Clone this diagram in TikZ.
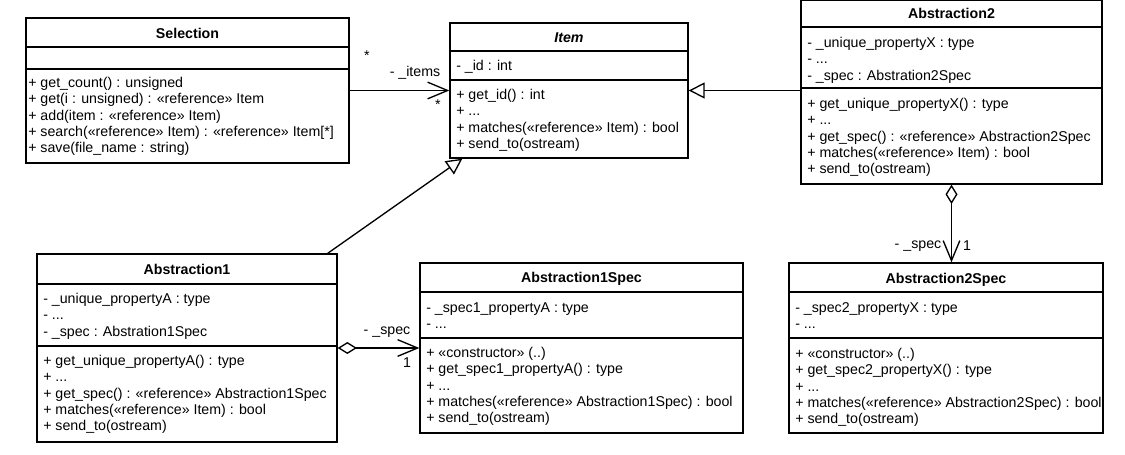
\documentclass[tikz,border=0pt]{standalone}
\usepackage{fontspec}
\setmainfont{Liberation Sans}
\usetikzlibrary{arrows.meta,fit,calc}
\tikzset{
  box/.style={draw, line width=1pt, inner sep=0pt},
  sepline/.style={line width=1pt},
  txt/.style={anchor=north west, inner sep=0pt, align=left, font=\fontsize{10.65}{12.2}\selectfont},
  ttl/.style={anchor=base, inner sep=0pt, font=\fontsize{10.65}{12.2}\selectfont\bfseries},
  lbl/.style={inner sep=0pt, font=\fontsize{10.65}{12.2}\selectfont},
  conn/.style={line width=1pt},
  assoc/.style={conn, -{Straight Barb[length=15pt,width=12.5pt,line width=1pt]}},
  inh/.style={conn, -{Triangle[open,length=12pt,width=12pt,line width=1pt]}},
  aggr/.style={conn, {Diamond[open,length=14.5pt,width=9pt,line width=1pt]}-{Straight Barb[length=15pt,width=12.5pt,line width=1pt]}},
}
\begin{document}
\begin{tikzpicture}[x=0.75pt,y=-0.75pt]
\useasboundingbox (0,0) rectangle (1125,454);
\fill[white] (0,0) rectangle (1125,454);

% Selection
\node[box, fit={(26,18) (349,163)}] (sel) {};
\draw[sepline] (26,47) -- (349,47);
\draw[sepline] (26,69) -- (349,69);
\node[ttl] (selt) at (187.5,38) {Selection};
\node[txt] (selo) at (28,76) {\strut+ get\_count() : unsigned\\
+ get(i : unsigned) : «reference» Item\\
+ add(item : «reference» Item)\\
+ search(«reference» Item) : «reference» Item[*]\\
+ save(file\_name : string)};

% Item
\node[box, fit={(450,23) (688,158)}] (item) {};
\draw[sepline] (450,51) -- (688,51);
\draw[sepline] (450,80) -- (688,80);
\node[ttl, font=\fontsize{10.65}{12.2}\selectfont\bfseries\itshape] (itemt) at (569,42) {Item};
\node[txt] (itema) at (456,59) {\strut- \_id : int};
\node[txt] (itemo) at (456,88) {\strut+ get\_id() : int\\
+ ...\\
+ matches(«reference» Item) : bool\\
+ send\_to(ostream)};

% Abstraction2
\node[box, fit={(801,0.7) (1102,184)}] (abs2) {};
\draw[sepline] (801,27) -- (1102,27);
\draw[sepline] (801,88) -- (1102,88);
\node[ttl] (abs2t) at (951.5,18.5) {Abstraction2};
\node[txt] (abs2a) at (807,36) {\strut- \_unique\_propertyX : type\\
- ...\\
- \_spec : Abstration2Spec};
\node[txt] (abs2o) at (807,97) {\strut+ get\_unique\_propertyX() : type\\
+ ...\\
+ get\_spec() : «reference» Abstraction2Spec\\
+ matches(«reference» Item) : bool\\
+ send\_to(ostream)};

% Abstraction1
\node[box, fit={(37,254) (337,442)}] (abs1) {};
\draw[sepline] (37,284) -- (337,284);
\draw[sepline] (37,346) -- (337,346);
\node[ttl] (abs1t) at (187,274) {Abstraction1};
\node[txt] (abs1a) at (43,292) {\strut- \_unique\_propertyA : type\\
- ...\\
- \_spec : Abstration1Spec};
\node[txt] (abs1o) at (43,354) {\strut+ get\_unique\_propertyA() : type\\
+ ...\\
+ get\_spec() : «reference» Abstraction1Spec\\
+ matches(«reference» Item) : bool\\
+ send\_to(ostream)};

% Abstraction1Spec
\node[box, fit={(420,263) (743,433)}] (spec1) {};
\draw[sepline] (420,292) -- (743,292);
\draw[sepline] (420,338) -- (743,338);
\node[ttl] (spec1t) at (581.5,282.5) {Abstraction1Spec};
\node[txt] (spec1a) at (426,301) {\strut- \_spec1\_propertyA : type\\
- ...};
\node[txt] (spec1o) at (426,346) {\strut+ «constructor» (..)\\
+ get\_spec1\_propertyA() : type\\
+ ...\\
+ matches(«reference» Abstraction1Spec) : bool\\
+ send\_to(ostream)};

% Abstraction2Spec
\node[box, fit={(789,263) (1103,433)}] (spec2) {};
\draw[sepline] (789,292) -- (1103,292);
\draw[sepline] (789,338) -- (1103,338);
\node[ttl] (spec2t) at (946,283) {Abstraction2Spec};
\node[txt] (spec2a) at (795,301) {\strut- \_spec2\_propertyX : type\\
- ...};
\node[txt] (spec2o) at (795,347) {\strut+ «constructor» (..)\\
+ get\_spec2\_propertyX() : type\\
+ ...\\
+ matches(«reference» Abstraction2Spec) : bool\\
+ send\_to(ostream)};

% connectors
\draw[assoc] (sel.east) -- (item.west |- sel.east);
\node[lbl] (m1) at (367,56) {*};
\node[lbl] (r1) at (415,73) {- \_items};
\node[lbl] (m2) at (438,105) {*};

\draw[inh] (abs2.west |- item.east) -- (item.east);
\draw[inh] ($(abs1.north east)+(-10,0)$) -- ($(item.south west)+(13,0)$);

\draw[aggr] (abs1.east) -- (spec1.west |- abs1.east);
\node[lbl] (r2) at (387,332) {- \_spec};
\node[lbl] (m3) at (407,363) {1};

\draw[aggr] (abs2.south) -- (abs2.south |- spec2.north);
\node[lbl] (r3) at (918,246) {- \_spec};
\node[lbl] (m4) at (967,246) {1};
\end{tikzpicture}
\end{document}
